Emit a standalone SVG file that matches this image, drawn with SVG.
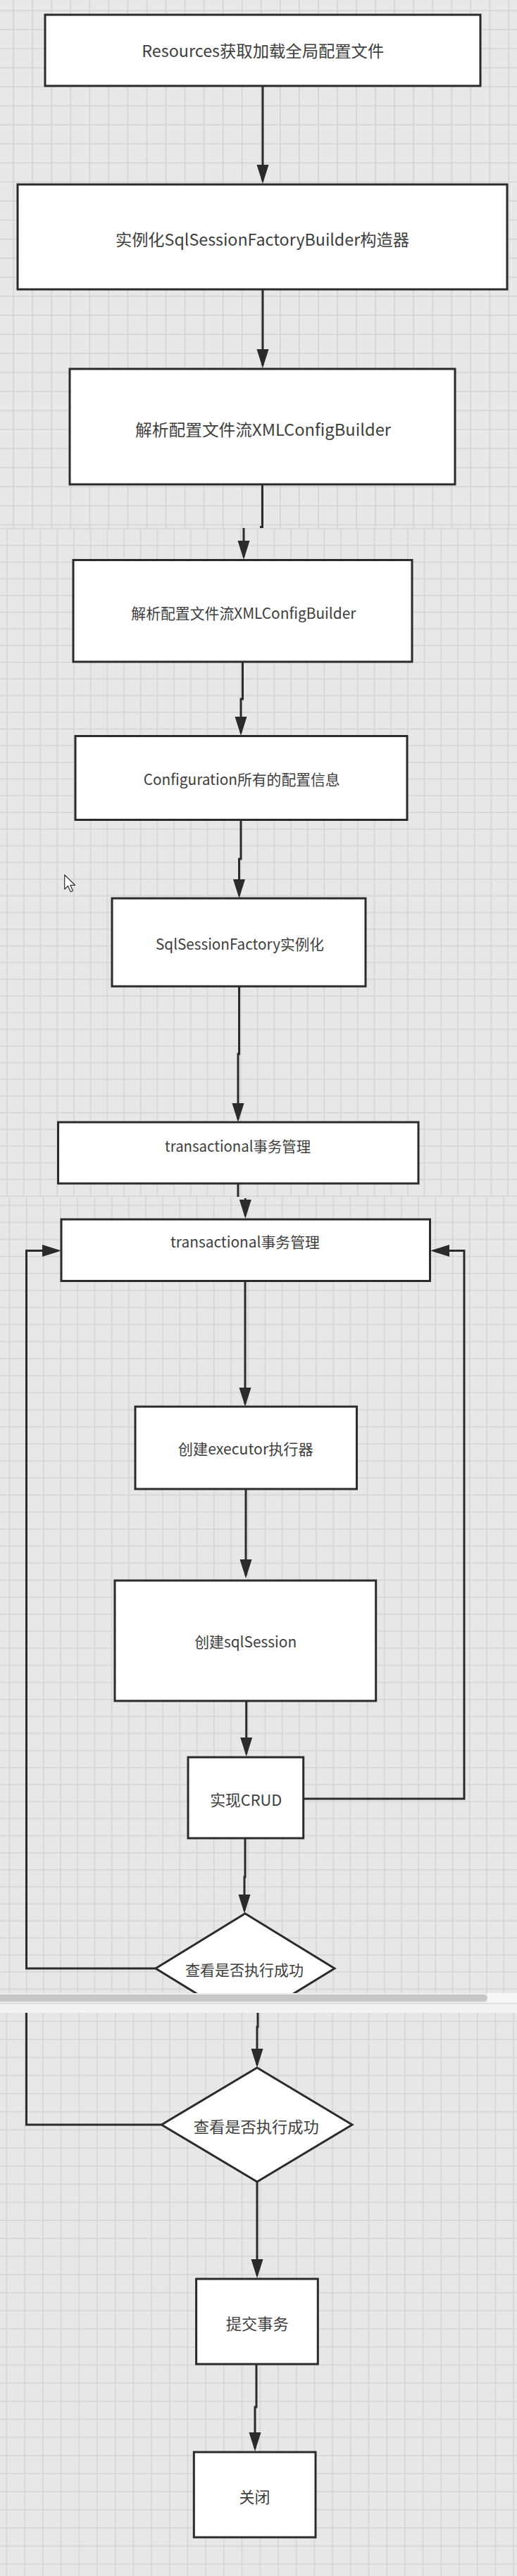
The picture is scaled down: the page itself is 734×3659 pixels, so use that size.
<svg xmlns="http://www.w3.org/2000/svg" width="734" height="3659" viewBox="0 0 734 3659">
<defs>
<pattern id="g1" patternUnits="userSpaceOnUse" x="18.25" y="14.25" width="27.05" height="27.05"><rect width="27.05" height="27.05" fill="#e8e8e8"/><path d="M0.75,0 V27.05 M0,0.75 H27.05" stroke="#d2d2d2" stroke-width="1.5" fill="none"/></pattern>
<pattern id="g2" patternUnits="userSpaceOnUse" x="9.25" y="750.25" width="23.7" height="23.7"><rect width="23.7" height="23.7" fill="#e7e7e7"/><path d="M0.75,0 V23.7 M0,0.75 H23.7" stroke="#d4d4d4" stroke-width="1.5" fill="none"/></pattern>
<pattern id="g3" patternUnits="userSpaceOnUse" x="12.55" y="1711.25" width="24.2" height="24.2"><rect width="24.2" height="24.2" fill="#e7e7e7"/><path d="M0.75,0 V24.2 M0,0.75 H24.2" stroke="#d4d4d4" stroke-width="1.5" fill="none"/></pattern>
<pattern id="g4" patternUnits="userSpaceOnUse" x="8.65" y="2870.25" width="25.7" height="25.7"><rect width="25.7" height="25.7" fill="#e7e7e7"/><path d="M0.75,0 V25.7 M0,0.75 H25.7" stroke="#d4d4d4" stroke-width="1.5" fill="none"/></pattern>
<marker id="arr" markerUnits="userSpaceOnUse" markerWidth="28" markerHeight="18" viewBox="0 0 28 18" refX="23" refY="9" orient="auto"><path d="M0,0.5 L27,9 L0,17.5 z" fill="#2b2b2b"/></marker>
<clipPath id="cut1"><rect x="0" y="1700" width="734" height="1131"/></clipPath>
</defs>
<style>
.box{fill:#ffffff;stroke:#2b2b2b;stroke-width:3}
.ln{fill:none;stroke:#2b2b2b;stroke-width:3}
.ar{fill:none;stroke:#2b2b2b;stroke-width:3;marker-end:url(#arr)}
.t{font-family:"Noto Sans CJK SC","Microsoft YaHei",sans-serif;fill:#3e3e3e;text-anchor:middle;dominant-baseline:central}
.f23{font-size:23px}
.f21{font-size:21px}
.f22{font-size:22px}
</style>
<g id="background">
<rect x="0" y="0" width="734" height="750" fill="url(#g1)"/>
<rect x="0" y="750" width="734" height="950" fill="url(#g2)"/>
<rect x="0" y="1700" width="734" height="1131" fill="url(#g3)"/>
<rect x="0" y="2859" width="734" height="800" fill="url(#g4)"/>
</g>
<g id="connectors">
<path class="ar" d="M373,122 V257"/>
<path class="ar" d="M373,411 V519"/>
<path class="ln" d="M372.5,688 V748.5 H369"/>
<path class="ar" d="M346,750 V791"/>
<path class="ar" d="M344.5,940 V993 H342 V1041"/>
<path class="ar" d="M342,1164.5 V1220 H339.5 V1272"/>
<path class="ar" d="M339.5,1401 V1497 H338 V1590"/>
<path class="ln" d="M338,1681 V1700"/>
<path class="ar" d="M348.3,1702 V1727"/>
<path class="ar" d="M348,1819.5 V1994"/>
<path class="ar" d="M349,2115 V2238"/>
<path class="ar" d="M349.7,2416 V2491"/>
<path class="ar" d="M430.7,2555 H659 V1776.6 H615"/>
<path class="ar" d="M348,2611 V2666 H347 V2714"/>
<path class="ar" d="M221,2796 H37.5 V1776.6 H83"/>
<path class="ln" d="M37.5,2859 V3018 H229.4"/>
<path class="ar" d="M366,2859 V2879 H365 V2933"/>
<path class="ar" d="M365,3099 V3232"/>
<path class="ar" d="M364,3358 V3419 H362 V3478"/>
</g>
<g id="n1"><rect class="box" x="64" y="21" width="618" height="101"/><text class="t f23" x="373.3" y="71" textLength="344" lengthAdjust="spacingAndGlyphs">Resources获取加载全局配置文件</text></g>
<g id="n2"><rect class="box" x="25" y="262" width="695" height="149"/><text class="t f23" x="372.4" y="339" textLength="417" lengthAdjust="spacingAndGlyphs">实例化SqlSessionFactoryBuilder构造器</text></g>
<g id="n3"><rect class="box" x="99" y="524" width="547" height="164"/><text class="t f23" x="373.5" y="609" textLength="363" lengthAdjust="spacingAndGlyphs">解析配置文件流XMLConfigBuilder</text></g>
<g id="n4"><rect class="box" x="104" y="795.5" width="481" height="144.5"/><text class="t f21" x="345.8" y="870" textLength="319" lengthAdjust="spacingAndGlyphs">解析配置文件流XMLConfigBuilder</text></g>
<g id="n5"><rect class="box" x="107" y="1045.5" width="471" height="119"/><text class="t f21" x="343.2" y="1106" textLength="279" lengthAdjust="spacingAndGlyphs">Configuration所有的配置信息</text></g>
<g id="n6"><rect class="box" x="159" y="1276" width="360" height="125"/><text class="t f21" x="340.5" y="1340" textLength="239" lengthAdjust="spacingAndGlyphs">SqlSessionFactory实例化</text></g>
<g id="n7"><rect class="box" x="82.5" y="1594" width="511.5" height="87"/><text class="t f21" x="337.6" y="1627" textLength="207" lengthAdjust="spacingAndGlyphs">transactional事务管理</text></g>
<g id="n8"><rect class="box" x="87" y="1732" width="523.5" height="87.5"/><text class="t f21" x="348" y="1763" textLength="212" lengthAdjust="spacingAndGlyphs">transactional事务管理</text></g>
<g id="n9"><rect class="box" x="192" y="1998" width="314.5" height="117"/><text class="t f21" x="348.8" y="2057" textLength="192" lengthAdjust="spacingAndGlyphs">创建executor执行器</text></g>
<g id="n10"><rect class="box" x="163" y="2245" width="370.7" height="171"/><text class="t f21" x="348.7" y="2331" textLength="145" lengthAdjust="spacingAndGlyphs">创建sqlSession</text></g>
<g id="n11"><rect class="box" x="267" y="2496" width="163.7" height="115"/><text class="t f22" x="349.2" y="2555" textLength="102" lengthAdjust="spacingAndGlyphs">实现CRUD</text></g>
<g id="d1" clip-path="url(#cut1)"><polygon class="box" points="348,2718 475,2796 348,2874 221,2796"/><text class="t f21" x="347" y="2797" textLength="168" lengthAdjust="spacingAndGlyphs">查看是否执行成功</text></g>
<g id="scrollbar">
<rect x="0" y="2831" width="734" height="28" fill="#f3f3f3"/>
<rect x="0" y="2831" width="734" height="14" fill="#ebebeb"/>
<rect x="692" y="2831" width="42" height="14" fill="#f7f7f7"/>
<rect x="-6" y="2833" width="698" height="10" rx="5" fill="#c6c6c6"/>
<rect x="0" y="2845" width="734" height="1.5" fill="#dadada"/>
</g>
<g id="d2"><polygon class="box" points="365,2937 500,3018 365,3099 229.4,3018"/><text class="t f22" x="363.8" y="3019" textLength="178" lengthAdjust="spacingAndGlyphs">查看是否执行成功</text></g>
<g id="n12"><rect class="box" x="278.6" y="3237" width="172.7" height="121"/><text class="t f22" x="365.2" y="3299" textLength="89" lengthAdjust="spacingAndGlyphs">提交事务</text></g>
<g id="n13"><rect class="box" x="275.3" y="3483" width="172.7" height="121"/><text class="t f22" x="361.4" y="3545" textLength="44" lengthAdjust="spacingAndGlyphs">关闭</text></g>
<g id="cursor"><polygon points="91.7,1242.7 91.7,1263 96.5,1258.5 100.3,1266.7 103.5,1265.3 99.8,1257.3 106.5,1257.3" fill="#ffffff" stroke="#333333" stroke-width="1.2" stroke-linejoin="round"/></g>
</svg>
